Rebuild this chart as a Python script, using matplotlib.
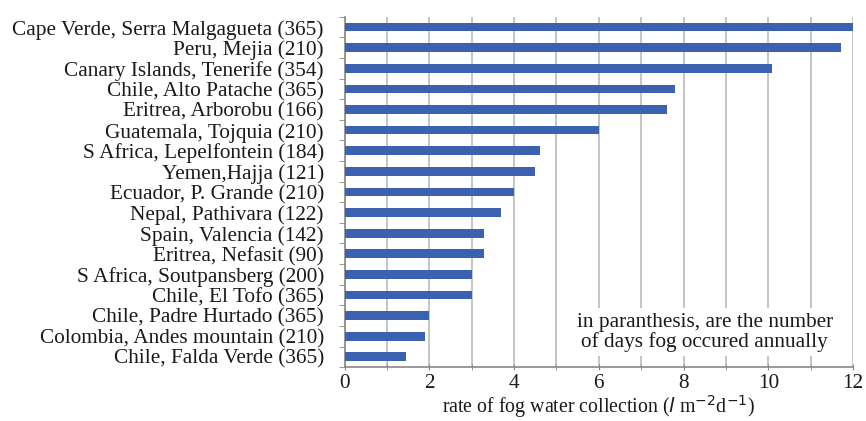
import matplotlib
matplotlib.use("Agg")
import matplotlib.pyplot as plt
import numpy as np

sites = ["Cape Verde, Serra Malgagueta (365)", "Peru, Mejia (210)",
         "Canary Islands, Tenerife (354)", "Chile, Alto Patache (365)",
         "Eritrea, Arborobu (166)", "Guatemala, Tojquia (210)",
         "S Africa, Lepelfontein (184)", "Yemen,Hajja (121)",
         "Ecuador, P. Grande (210)", "Nepal, Pathivara (122)",
         "Spain, Valencia (142)", "Eritrea, Nefasit (90)",
         "S Africa, Soutpansberg (200)", "Chile, El Tofo (365)",
         "Chile, Padre Hurtado (365)", "Colombia, Andes mountain (210)",
         "Chile, Falda Verde (365)"]
rates = [12.0, 11.72, 10.08, 7.8, 7.62, 6.0, 4.62, 4.49, 3.99, 3.7,
         3.3, 3.3, 3.0, 3.0, 2.0, 1.9, 1.45]
xticks = [0, 2, 4, 6, 8, 10, 12]

plt.rcParams['font.family'] = ['Liberation Serif', 'DejaVu Serif']
FS = 15.3

fig = plt.figure(figsize=(8.66, 4.21), dpi=100)
ax = fig.add_axes([0.398, 0.128, 0.587, 0.832])

y = np.arange(len(sites))
ax.barh(y, rates, height=0.42, color='#3A62B0', zorder=3)
ax.set_ylim(len(sites) - 0.5, -0.5)
ax.set_xlim(0, 12)
ax.set_yticks(y)
ax.set_yticklabels(sites, fontsize=FS, color='#1a1a1a')
ax.set_yticks(np.arange(-0.5, len(sites), 1), minor=True)
ax.tick_params(axis='y', which='major', length=0, pad=15)
ax.tick_params(axis='y', which='minor', length=4, color='#888888', direction='out')
ax.set_xticks(xticks)
ax.set_xticklabels([str(t) for t in xticks], fontsize=FS, color='#1a1a1a')
ax.set_xticks(np.arange(0, 13, 1), minor=True)
ax.tick_params(axis='x', which='both', length=4, color='#888888', direction='inout', pad=3)
ax.grid(axis='x', which='both', color='#BBBBBB', linewidth=1.2, zorder=0)
for s in ['top', 'right']:
    ax.spines[s].set_visible(False)
for s in ['left', 'bottom']:
    ax.spines[s].set_color('#888888')
    ax.spines[s].set_linewidth(1.2)

ax.text(8.5, 14.8, "in paranthesis, are the number\nof days fog occured annually",
        ha='center', va='center', fontsize=FS, linespacing=1.0, color='#1a1a1a',
        bbox=dict(facecolor='white', edgecolor='none', pad=3), zorder=4)

fig.text(0.398 + 0.587 / 2, 0.003,
         r"rate of fog water collection ($\mathit{l}$ m$^{-2}$d$^{-1}$)",
         ha='center', va='bottom', fontsize=14.3, color='#1a1a1a')

fig.savefig("out.png", dpi=100)
